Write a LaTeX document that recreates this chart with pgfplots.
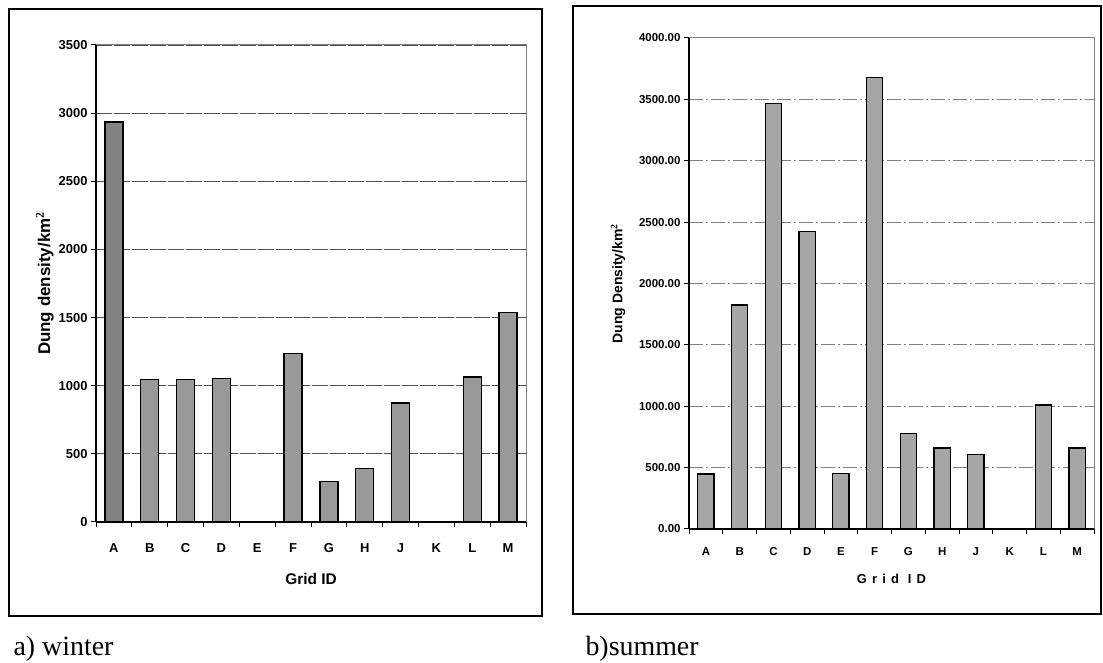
\documentclass[border=0pt]{standalone}
\usepackage{fontspec}
\setmainfont{Liberation Serif}
\setsansfont{Liberation Sans}
\usepackage{pgfplots}
\pgfplotsset{compat=1.18}

\definecolor{bargray}{HTML}{999999}
\definecolor{barlight}{HTML}{A6A6A6}
\definecolor{bardark}{HTML}{828282}
\definecolor{gridgray}{HTML}{505050}

\pgfplotsset{
  panel/.style={
    scale only axis, anchor=south west,
    xmin=-0.5, xmax=11.5, ymin=0,
    axis lines=left, axis line style={-, black, line width=1.3bp},
    xtick={0,...,11}, xticklabels={A,B,C,D,E,F,G,H,J,K,L,M},
    major x tick style={draw=none},
    minor xtick={-0.5,0.5,...,11.5},
    minor x tick style={black, line width=1bp},
    y tick style={black, line width=1bp},
    tick align=outside, major tick length=5bp, minor tick length=5bp,
    ymajorgrids,
    /pgf/number format/assume math mode=true,
    /pgf/number format/1000 sep={},
    ybar, bar shift=0pt,
    clip=false,
  },
  barstyle/.style={draw=black, line width=1.3bp, fill=#1},
}

\begin{document}
\begin{tikzpicture}[x=1bp,y=1bp]
\path[use as bounding box] (0,0) rectangle (1103,663);
% panel frames
\draw[line width=1.4bp] (9,47) rectangle (542,654);
\draw[line width=1.4bp] (573,49) rectangle (1101,657);

% a) winter
\begin{axis}[panel, at={(96bp,141bp)}, width=430bp, height=477bp,
  ymax=3500, ytick={0,500,...,3500}, bar width=0.5,
  yticklabel style={font=\sffamily\bfseries\fontsize{13}{15}\selectfont},
  xticklabel style={font=\sffamily\bfseries\fontsize{13}{15}\selectfont, yshift=-13bp},
  grid style={gridgray, line width=1.1bp, dash pattern=on 16bp off 2bp},
  xlabel={Grid ID}, ylabel={Dung density/km$^{\mathbf 2}$},
  every axis x label/.style={at={(axis description cs:0.5,0)}, yshift=-57bp, anchor=center,
    font=\sffamily\bfseries\fontsize{15.5}{17}\selectfont},
  every axis y label/.style={at={(axis description cs:-0.119,0.5)}, rotate=90, anchor=center,
    font=\sffamily\bfseries\fontsize{17}{19}\selectfont},
]
\draw[gray, line width=1bp] (rel axis cs:0,1) -- (rel axis cs:1,1) -- (rel axis cs:1,0);
\addplot[barstyle=bardark] coordinates {(0,2935)};
\addplot[barstyle=bargray] coordinates {
  (1,1048) (2,1048) (3,1054) (5,1238) (6,297) (7,390) (8,874) (10,1063) (11,1538)};
\end{axis}

% b) summer
\begin{axis}[panel, at={(689bp,134bp)}, width=405bp, height=491bp,
  ymax=4000, ytick={0,500,...,4000}, bar width=0.48,
  yticklabels={0.00,500.00,1000.00,1500.00,2000.00,2500.00,3000.00,3500.00,4000.00},
  yticklabel style={font=\sffamily\bfseries\fontsize{11.5}{13}\selectfont},
  xticklabel style={font=\sffamily\bfseries\fontsize{11.5}{13}\selectfont, yshift=-10bp},
  grid style={gray, line width=1bp, dash pattern=on 14bp off 3bp on 2bp off 3bp},
  xlabel={\addfontfeatures{LetterSpace=40}Grid ID}, ylabel={Dung Density/km$^{\mathbf 2}$},
  every axis x label/.style={at={(axis description cs:0.5,0)}, yshift=-50bp, anchor=center,
    font=\sffamily\bfseries\fontsize{13}{15}\selectfont},
  every axis y label/.style={at={(axis description cs:-0.175,0.5)}, rotate=90, anchor=center,
    font=\sffamily\bfseries\fontsize{14}{16}\selectfont},
]
\draw[gray, line width=1bp] (rel axis cs:0,1) -- (rel axis cs:1,1) -- (rel axis cs:1,0);
\addplot[barstyle=barlight] coordinates {
  (0,449) (1,1824) (2,3466) (3,2425) (4,453) (5,3677) (6,779) (7,660) (8,605) (10,1009) (11,660)};
\end{axis}

% captions
\node[anchor=base west, font=\fontsize{28}{32}\selectfont] at (10,7) {a) winter};
\node[anchor=base west, font=\fontsize{28}{32}\selectfont] at (582,7) {b)summer};
\end{tikzpicture}
\end{document}
